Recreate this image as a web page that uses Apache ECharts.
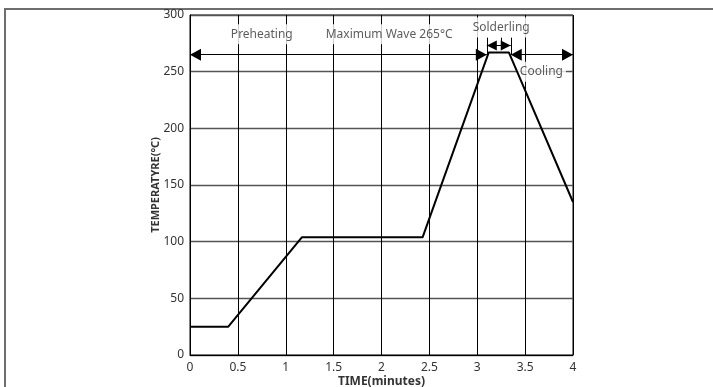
<!DOCTYPE html>
<html>
<head>
<meta charset="utf-8">
<script src="https://cdn.jsdelivr.net/npm/echarts@6/dist/echarts.min.js"></script>
<style>
html,body{margin:0;padding:0;background:#fff;}
#chart{width:713px;height:387px;}
</style>
</head>
<body>
<div id="chart"></div>
<script>
// Temperature profile
const timeMin = [0, 0.4, 1.17, 2.43, 3.12, 3.33, 4];
const tempC   = [25, 25, 104, 104, 267, 267, 135];

// Annotation texts and their anchor points (data coords)
const noteTexts = ['Preheating', 'Maximum Wave 265°C', 'Solderling', 'Cooling'];
const noteX = [0.75, 2.08, 3.25, 3.67];
const noteY = [283, 283, 289, 250];

// Double-headed arrows: start and end points
const arrowFrom = [[0, 265], [3.1, 273], [3.35, 265]];
const arrowTo   = [[3.1, 265], [3.35, 273], [4, 265]];

// Small vertical marker ticks
const tickFrom = [[3.1, 265], [3.25, 269], [3.35, 265]];
const tickTo   = [[3.1, 280], [3.25, 280], [3.35, 280]];

const FONT = 'Noto Sans';

const chart = echarts.init(document.getElementById('chart'));

const arrowData = arrowFrom.map((p, i) => {
  const small = i === 1;
  const sz = small ? [10, 10] : [12, 11];
  const off = [0, sz[1] / 2];
  return [
    {coord: p, symbol: 'triangle', symbolSize: sz, symbolOffset: off},
    {coord: arrowTo[i], symbol: 'triangle', symbolSize: sz, symbolOffset: off}
  ];
});
const tickData = tickFrom.map((p, i) => [
  {coord: p, symbol: 'none'},
  {coord: tickTo[i], symbol: 'none'}
]);

chart.setOption({
  backgroundColor: '#fff',
  animation: false,
  textStyle: {fontFamily: FONT},
  grid: {
    left: 190, right: 140, top: 15, bottom: 32,
    outerBoundsMode: 'none', containLabel: false,
    show: true, borderColor: '#000', borderWidth: 1, backgroundColor: 'transparent'
  },
  xAxis: {
    type: 'value', min: 0, max: 4, interval: 0.5,
    name: 'TIME(minutes)', nameLocation: 'middle', nameGap: 21,
    nameMoveOverlap: false,
    nameTextStyle: {fontWeight: 'bold', fontSize: 12, color: '#333', fontFamily: FONT},
    axisLine: {show: true, onZero: false, lineStyle: {color: '#000', width: 1}},
    axisTick: {show: false},
    axisLabel: {color: '#333', fontSize: 12, margin: 7, fontFamily: FONT},
    splitLine: {show: true, lineStyle: {color: '#000', width: 1}}
  },
  yAxis: {
    type: 'value', min: 0, max: 300, interval: 50,
    name: 'TEMPERATYRE(°C)', nameLocation: 'middle', nameGap: 29,
    nameMoveOverlap: false,
    nameTextStyle: {fontWeight: 'bold', fontSize: 11, color: '#333', fontFamily: FONT},
    axisLine: {show: true, lineStyle: {color: '#000', width: 1}},
    axisTick: {show: false},
    axisLabel: {color: '#333', fontSize: 12, margin: 6, fontFamily: FONT},
    splitLine: {show: true, lineStyle: {color: '#555', width: 1.3}}
  },
  graphic: [{
    type: 'polyline',
    shape: {points: [[5, 387], [5, 9], [713, 9]]},
    style: {stroke: '#6e6e6e', lineWidth: 2, fill: null},
    silent: true
  }],
  series: [
    {
      type: 'scatter', z: 1, silent: true,
      symbolSize: 0,
      data: noteTexts.map((t, i) => ({name: t, value: [noteX[i], noteY[i]]})),
      label: {
        show: true, position: 'inside', formatter: '{b}',
        color: '#333', fontSize: 12, fontFamily: FONT,
        backgroundColor: '#fff', padding: [4, 3]
      }
    },
    {
      type: 'line', z: 3, silent: true,
      data: timeMin.map((t, i) => [t, tempC[i]]),
      symbol: 'none',
      lineStyle: {color: '#000', width: 2}
    },
    {
      type: 'line', z: 4, silent: true, data: [],
      markLine: {
        silent: true, animation: false,
        label: {show: false},
        lineStyle: {color: '#000', width: 1, type: 'solid'},
        itemStyle: {color: '#000'},
        emphasis: {disabled: true},
        data: arrowData.concat(tickData)
      }
    }
  ]
});
</script>
</body>
</html>
